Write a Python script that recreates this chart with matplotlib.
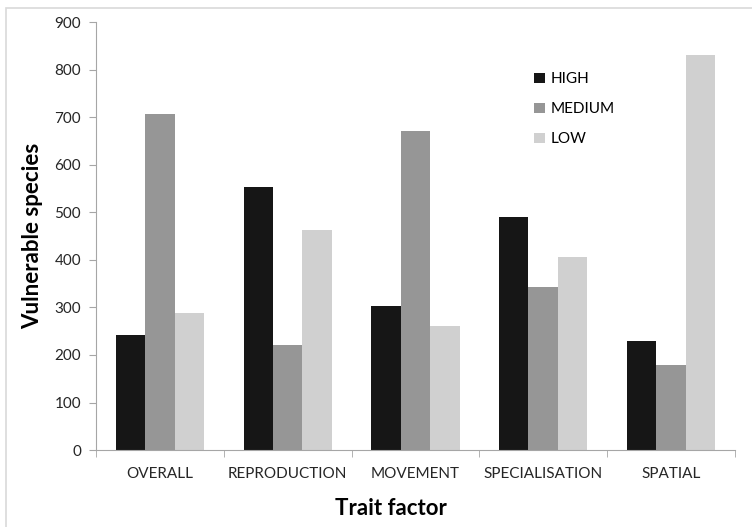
import numpy as np
import matplotlib
matplotlib.use('Agg')
import matplotlib.pyplot as plt
from matplotlib.patches import Rectangle

plt.rcParams['font.family'] = ['Lato', 'DejaVu Sans']

# data
categories = ['OVERALL', 'REPRODUCTION', 'MOVEMENT', 'SPECIALISATION', 'SPATIAL']
levels = ['HIGH', 'MEDIUM', 'LOW']
high = [242, 554, 303, 490, 229]
medium = [706, 220, 672, 342, 178]
low = [288, 463, 261, 405, 830]
colors = ['#161616', '#969696', '#d0d0d0']

fig = plt.figure(figsize=(7.52, 5.27), dpi=100)
ax = fig.add_axes([0.128, 0.146, 0.849, 0.812])

# light frame around the chart area
fig.patches.append(Rectangle((0.008, -0.01), 1.1, 0.995, transform=fig.transFigure,
                             fill=False, edgecolor='#d9d9d9', linewidth=1.2))

x = np.arange(len(categories))
w = 0.23
for i, (vals, lab) in enumerate(zip([high, medium, low], levels)):
    ax.bar(x + (i - 1) * w, vals, w, color=colors[i], label=lab)

ax.set_xlim(-0.5, len(categories) - 0.5)
ax.set_ylim(0, 900)
ax.set_yticks(range(0, 901, 100))
ax.set_xticks(x)
ax.set_xticklabels(categories)
ax.set_xticks(np.arange(-0.5, len(categories), 1), minor=True)
ax.tick_params(axis='x', which='major', length=0, pad=12, labelsize=11, labelcolor='#262626')
ax.tick_params(axis='x', which='minor', length=5, color='#a6a6a6')
ax.tick_params(axis='y', length=5, color='#a6a6a6', labelsize=11, labelcolor='#262626', pad=6)

for s in ['top', 'right']:
    ax.spines[s].set_visible(False)
for s in ['left', 'bottom']:
    ax.spines[s].set_color('#a6a6a6')

ax.set_ylabel('Vulnerable species', fontsize=16, fontweight='bold', labelpad=8)
fig.text(0.52, 0.035, 'Trait factor', fontsize=16, fontweight='bold', ha='center', va='center')

ax.legend(loc='upper left', bbox_to_anchor=(0.664, 0.915), frameon=False, fontsize=11,
          handlelength=0.7, handleheight=0.7, handletextpad=0.4, labelspacing=1.05)

fig.savefig('out.png', dpi=100)
